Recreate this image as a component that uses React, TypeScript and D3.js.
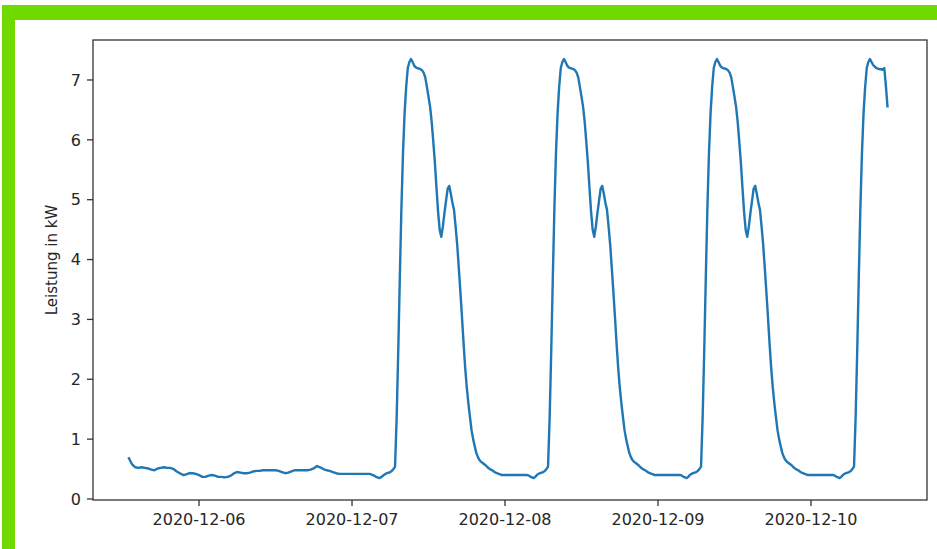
import React from 'react';
import * as d3 from 'd3';

// ---- data (kW) ----
// 2020-12-05, 30-min steps starting 13:00
const kw1205 = [0.68, 0.58, 0.53, 0.52, 0.53, 0.52, 0.51, 0.49, 0.48, 0.51, 0.52, 0.53, 0.52, 0.52, 0.50, 0.46, 0.43, 0.40, 0.41, 0.43, 0.43, 0.42];
// 2020-12-06, 30-min steps starting 00:00
const kw1206 = [0.40, 0.37, 0.37, 0.39, 0.40, 0.39, 0.37, 0.37, 0.36, 0.37, 0.39, 0.43, 0.45, 0.44, 0.43, 0.43,
  0.44, 0.46, 0.47, 0.47, 0.48, 0.48, 0.48, 0.48, 0.48, 0.47, 0.45, 0.43, 0.44, 0.46, 0.48, 0.48,
  0.48, 0.48, 0.48, 0.49, 0.51, 0.55, 0.53, 0.50, 0.48, 0.47, 0.45, 0.43, 0.42, 0.42, 0.42, 0.42];
// 2020-12-07, 15-min steps starting 00:00
const kw1207 = [0.42, 0.42, 0.42, 0.42, 0.42, 0.42, 0.42, 0.42, 0.42, 0.42, 0.42, 0.42, 0.41, 0.40, 0.39, 0.37,
  0.36, 0.35, 0.36, 0.38, 0.40, 0.42, 0.43, 0.44, 0.45, 0.47, 0.50, 0.54,
  1.35, 2.46, 3.70, 4.87, 5.79, 6.45, 6.89, 7.20, 7.30, 7.35, 7.30, 7.24, 7.21, 7.20, 7.19, 7.18,
  7.16, 7.12, 7.04, 6.88, 6.72, 6.55, 6.30, 5.97, 5.62, 5.20, 4.80, 4.50, 4.38, 4.55, 4.78, 4.98,
  5.18, 5.23, 5.10, 4.95, 4.83, 4.55, 4.25, 3.86, 3.46, 3.04, 2.60, 2.20, 1.87, 1.60, 1.37, 1.15,
  1.00, 0.88, 0.77, 0.70, 0.65, 0.62, 0.60, 0.58, 0.56, 0.53, 0.51, 0.49, 0.48, 0.46, 0.44, 0.43,
  0.42, 0.41, 0.40, 0.40];
// 2020-12-08, 15-min steps starting 00:00
const kw1208 = [0.40, 0.40, 0.40, 0.40, 0.40, 0.40, 0.40, 0.40, 0.40, 0.40, 0.40, 0.40, 0.40, 0.40, 0.40, 0.39,
  0.37, 0.36, 0.35, 0.37, 0.40, 0.42, 0.43, 0.44, 0.45, 0.47, 0.50, 0.54,
  1.35, 2.46, 3.70, 4.87, 5.79, 6.45, 6.89, 7.20, 7.30, 7.35, 7.30, 7.24, 7.21, 7.20, 7.19, 7.18,
  7.16, 7.12, 7.04, 6.88, 6.72, 6.55, 6.30, 5.97, 5.62, 5.20, 4.80, 4.50, 4.38, 4.55, 4.78, 4.98,
  5.18, 5.23, 5.10, 4.95, 4.83, 4.55, 4.25, 3.86, 3.46, 3.04, 2.60, 2.20, 1.87, 1.60, 1.37, 1.15,
  1.00, 0.88, 0.77, 0.70, 0.65, 0.62, 0.60, 0.58, 0.56, 0.53, 0.51, 0.49, 0.48, 0.46, 0.44, 0.43,
  0.42, 0.41, 0.40, 0.40];
// 2020-12-09, 15-min steps starting 00:00
const kw1209 = [0.40, 0.40, 0.40, 0.40, 0.40, 0.40, 0.40, 0.40, 0.40, 0.40, 0.40, 0.40, 0.40, 0.40, 0.40, 0.39,
  0.37, 0.36, 0.35, 0.37, 0.40, 0.42, 0.43, 0.44, 0.45, 0.47, 0.50, 0.54,
  1.35, 2.46, 3.70, 4.87, 5.79, 6.45, 6.89, 7.20, 7.30, 7.35, 7.30, 7.24, 7.21, 7.20, 7.19, 7.18,
  7.16, 7.12, 7.04, 6.88, 6.72, 6.55, 6.30, 5.97, 5.62, 5.20, 4.80, 4.50, 4.38, 4.55, 4.78, 4.98,
  5.18, 5.23, 5.10, 4.95, 4.83, 4.55, 4.25, 3.86, 3.46, 3.04, 2.60, 2.20, 1.87, 1.60, 1.37, 1.15,
  1.00, 0.88, 0.77, 0.70, 0.65, 0.62, 0.60, 0.58, 0.56, 0.53, 0.51, 0.49, 0.48, 0.46, 0.44, 0.43,
  0.42, 0.41, 0.40, 0.40];
// 2020-12-10, 15-min steps starting 00:00 (until 12:00)
const kw1210 = [0.40, 0.40, 0.40, 0.40, 0.40, 0.40, 0.40, 0.40, 0.40, 0.40, 0.40, 0.40, 0.40, 0.40, 0.40, 0.39,
  0.37, 0.36, 0.35, 0.37, 0.40, 0.42, 0.43, 0.44, 0.45, 0.47, 0.50, 0.54,
  1.35, 2.46, 3.70, 4.87, 5.79, 6.45, 6.89, 7.20, 7.30, 7.35, 7.30, 7.25, 7.22, 7.20, 7.19, 7.18,
  7.18, 7.17, 7.20, 6.90, 6.56];

const segStarts = ['2020-12-05 13:00', '2020-12-06 00:00', '2020-12-07 00:00', '2020-12-08 00:00', '2020-12-09 00:00', '2020-12-10 00:00'];
const segSteps = [30, 30, 15, 15, 15, 15];
const segValues = [kw1205, kw1206, kw1207, kw1208, kw1209, kw1210];

const xTickDates = ['2020-12-06', '2020-12-07', '2020-12-08', '2020-12-09', '2020-12-10'];
const yTicks = [0, 1, 2, 3, 4, 5, 6, 7];
const yLabel = 'Leistung in kW';

const parseDT = d3.timeParse('%Y-%m-%d %H:%M');
const parseD = d3.timeParse('%Y-%m-%d');
const fmt = d3.timeFormat('%Y-%m-%d');

type Pt = { t: Date; v: number };

const points: Pt[] = [];
segValues.forEach((vals, i) => {
  const s = parseDT(segStarts[i]) as Date;
  vals.forEach((v, j) => {
    points.push({ t: d3.timeMinute.offset(s, j * segSteps[i]), v });
  });
});

const W = 937;
const H = 549;
const L = 93, R = 927, T = 40, B = 500;

export default function App() {
  const x = d3.scaleTime()
    .domain([parseDT('2020-12-05 07:22') as Date, parseDT('2020-12-10 18:12') as Date])
    .range([L, R]);
  const y = d3.scaleLinear().domain([-0.017, 7.668]).range([B, T]);
  const line = d3.line<Pt>().x(d => x(d.t)).y(d => y(d.v));
  const green = '#6fd900';
  const txt = '#262626';
  const font = 'DejaVu Sans, sans-serif';

  return (
    <svg width={W} height={H} style={{ position: 'absolute', left: 0, top: 0, background: '#fff' }}>
      <rect x={0} y={0} width={W} height={H} fill="#fff" />
      <rect x={2} y={5} width={W - 2} height={15} fill={green} />
      <rect x={2} y={5} width={13} height={H - 5} fill={green} />

      <path d={line(points) || ''} fill="none" stroke="#1f77b4" strokeWidth={2.4} strokeLinejoin="round" strokeLinecap="square" />

      <rect x={L} y={T} width={R - L} height={B - T} fill="none" stroke="#333" strokeWidth={1.3} />

      {yTicks.map(t => (
        <g key={'y' + t}>
          <line x1={L - 6} x2={L} y1={y(t)} y2={y(t)} stroke="#333" strokeWidth={1.3} />
          <text x={L - 12} y={y(t)} dy="0.36em" textAnchor="end" fontFamily={font} fontSize={16} fill={txt}>{t}</text>
        </g>
      ))}
      {xTickDates.map(s => {
        const d = parseD(s) as Date;
        return (
          <g key={s}>
            <line x1={x(d)} x2={x(d)} y1={B} y2={B + 6} stroke="#333" strokeWidth={1.3} />
            <text x={x(d)} y={525} textAnchor="middle" fontFamily={font} fontSize={16} fill={txt}>{fmt(d)}</text>
          </g>
        );
      })}
      <text transform="translate(52,260) rotate(-90)" textAnchor="middle" dy="0.35em" fontFamily={font} fontSize={15} fill={txt}>{yLabel}</text>
    </svg>
  );
}
